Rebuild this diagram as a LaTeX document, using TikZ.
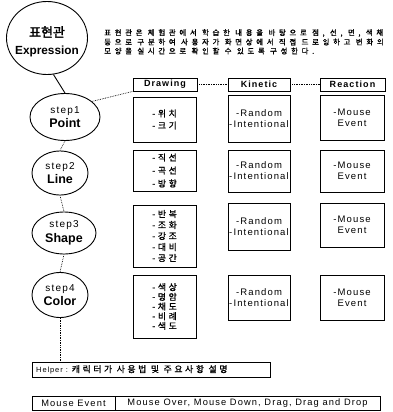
\documentclass[tikz,border=0pt]{standalone}
\usepackage{fontspec}
\setmainfont{Liberation Sans}
\newfontfamily\lsp[LetterSpace=12]{Liberation Sans}
\newfontfamily\krsp[LetterSpace=30,FakeBold=1.2]{Noto Sans CJK KR}
\newfontfamily\krb[FakeBold=2]{Noto Sans CJK KR}
\newfontfamily\krdesc[LetterSpace=50,FakeBold=1.1]{Noto Sans CJK KR}
\usetikzlibrary{shapes.geometric}
\tikzset{
  boxline/.style={draw, line width=0.9pt},
  cellbox/.style={boxline, inner sep=0pt, align=center},
  stepnode/.style={ellipse, boxline, inner sep=0pt, align=center},
  linkline/.style={densely dotted, line width=0.7pt},
  hdr/.style={cellbox, minimum height=13pt, font=\lsp\bfseries\fontsize{9}{10}\selectfont},
  kin/.style={cellbox, minimum width=62pt, font=\lsp\fontsize{9.5}{11}\selectfont},
  rea/.style={cellbox, minimum width=64pt, font=\lsp\fontsize{9.5}{11}\selectfont},
  drw/.style={cellbox, minimum width=63pt},
  desc/.style={anchor=west, inner sep=0pt, font=\krdesc\fontsize{7.4}{8}\selectfont},
  steptxt/.style={font=\lsp\fontsize{10}{14.5}\selectfont},
  metxt/.style={cellbox, minimum height=14pt, font=\lsp\fontsize{9.3}{10}\selectfont},
}
\newcommand{\stepname}[1]{{\normalfont\bfseries\fontsize{12.5}{14.5}\selectfont #1}}
\begin{document}
\begin{tikzpicture}[x=1pt,y=-1pt]
\useasboundingbox (0,0) rectangle (392,412);
% Expression bubble
\node[stepnode, minimum width=81pt, minimum height=73pt] (expr) at (47,38) {};
\node[font=\krb\fontsize{13}{13}\selectfont] (exprk) at (47,32) {표현관};
\node[font=\bfseries\fontsize{11.8}{12}\selectfont] (expre) at (47,51) {Expression};
% description
\node[desc] (ds1) at (104,33) {표현관은 체험관에서 학습한 내용을 바탕으로 점, 선, 면, 색채};
\node[desc] (ds2) at (104,42) {등으로 구분하여 사용자가 화면상에서 직접 드로잉하고 변화의};
\node[desc] (ds3) at (104,51) {모양을 실시간으로 확인할 수 있도록 구성한다.};
% headers
\node[hdr, minimum width=64pt] (hd) at (165,84.5) {Drawing};
\node[hdr, minimum width=62pt] (hk) at (259,84.5) {Kinetic};
\node[hdr, minimum width=65pt] (hr) at (352.5,84.5) {Reaction};
% steps
\node[stepnode, steptxt, minimum width=70pt, minimum height=47pt] (s1) at (65,117) {step1\\\stepname{Point}};
\node[stepnode, steptxt, minimum width=56pt, minimum height=44pt] (s2) at (60,173) {step2\\\stepname{Line}};
\node[stepnode, steptxt, minimum width=64pt, minimum height=42pt] (s3) at (64,233) {step3\\\stepname{Shape}};
\node[stepnode, steptxt, minimum width=56pt, minimum height=45pt] (s4) at (60,295) {step4\\\stepname{Color}};
% drawing boxes
\node[drw, minimum height=45pt, font=\krsp\fontsize{8.8}{12}\selectfont] (d1) at (164.5,119.5) {-위치\\-크기};
\node[drw, minimum height=41pt, font=\krsp\fontsize{8.8}{13}\selectfont] (d2) at (164.5,170.5) {-직선\\-곡선\\-방향};
\node[drw, minimum height=62pt, font=\krsp\fontsize{8.8}{11}\selectfont] (d3) at (164.5,236) {-반복\\-조화\\-강조\\-대비\\-공간};
\node[drw, minimum height=63pt, font=\krsp\fontsize{8.8}{9.7}\selectfont] (d4) at (164.5,306.5) {-색상\\-명암\\-채도\\-비례\\-색도};
% kinetic boxes
\node[kin, minimum height=47pt] (k1) at (259,118.5) {-Random\\-Intentional};
\node[kin, minimum height=42pt] (k2) at (259,171) {-Random\\-Intentional};
\node[kin, minimum height=47pt] (k3) at (259,226.5) {-Random\\-Intentional};
\node[kin, minimum height=45pt] (k4) at (259,297.5) {-Random\\-Intentional};
% reaction boxes
\node[rea, minimum height=45pt] (r1) at (352,117.5) {-Mouse\\Event};
\node[rea, minimum height=42pt] (r2) at (352,171) {-Mouse\\Event};
\node[rea, minimum height=44pt] (r3) at (352,225) {-Mouse\\Event};
\node[rea, minimum height=45pt] (r4) at (352,297.5) {-Mouse\\Event};
% helper
\node[boxline, minimum width=238pt, minimum height=15pt, inner sep=0pt] (hp) at (151,369.5) {};
\node[anchor=west, inner sep=0pt, font=\lsp\fontsize{7.5}{8}\selectfont] (hpt) at (36,369.5) {Helper : {\krsp\fontsize{8.8}{9}\selectfont 캐릭터가 사용법 및 주요사항 설명}};
% mouse event table
\node[metxt, minimum width=83pt] (me1) at (73.5,403) {Mouse Event};
\node[metxt, minimum width=265pt] (me2) at (247.5,403) {Mouse Over, Mouse Down, Drag, Drag and Drop};
% connectors
\draw[line width=0.9pt] (expr.-80) -- (s1.north);
\draw[linkline] (s1.30) -- (hd.south west);
\draw[linkline] (hd) -- (hk);
\draw[linkline] (hk) -- (hr);
\draw[linkline] (s1.south) -- (s2.north);
\draw[linkline] (s2.south) -- (s3.north);
\draw[linkline] (s3.south) -- (s4.north);
\draw[linkline] (s4.south) -- (s4.south |- hp.north);
\end{tikzpicture}
\end{document}
